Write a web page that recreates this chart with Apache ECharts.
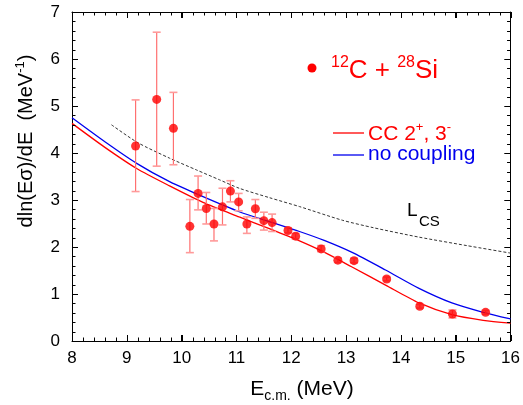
<!DOCTYPE html>
<html>
<head>
<meta charset="utf-8">
<script src="https://cdn.jsdelivr.net/npm/echarts@6/dist/echarts.min.js"></script>
<style>
html, body { margin: 0; padding: 0; background: #fff; }
#view { width: 523px; height: 405px; }
</style>
</head>
<body>
<div id="view"></div>
<script>
var myChart = echarts.init(document.getElementById('view'));

// measured points, 12C + 28Si
var energy = [9.16, 9.545, 9.85, 10.15, 10.30, 10.45, 10.59, 10.745, 10.89, 11.04, 11.19, 11.345,
    11.50, 11.65, 11.94, 12.08, 12.545, 12.85, 13.145, 13.74, 14.345, 14.94, 15.545];
var dlnE = [4.15, 5.14, 4.525, 2.44, 3.14, 2.82, 2.49, 2.855, 3.19, 2.96, 2.49, 2.815,
    2.56, 2.52, 2.35, 2.23, 1.96, 1.72, 1.71, 1.32, 0.74, 0.575, 0.61];
var errLow = [3.18, 3.72, 3.75, 1.88, 2.79, 2.49, 2.13, 2.47, 2.96, 2.77, 2.29, 2.61,
    2.36, 2.33, 2.30, 2.17, 1.90, 1.67, 1.66, 1.28, 0.70, 0.49, 0.57];
var errHigh = [5.13, 6.57, 5.29, 3.01, 3.51, 3.16, 2.82, 3.25, 3.41, 3.14, 2.64, 3.01,
    2.74, 2.70, 2.41, 2.29, 2.03, 1.77, 1.76, 1.36, 0.78, 0.66, 0.65];

// CC 2+, 3- curve
var ccX = [8.0, 8.6, 9.18, 9.78, 10.39, 11.05, 11.6, 12.15, 12.6, 13.1, 13.72, 14.33, 14.93, 15.5, 16.0];
var ccY = [4.63, 4.12, 3.67, 3.30, 2.95, 2.64, 2.39, 2.13, 1.89, 1.58, 1.19, 0.81, 0.56, 0.44, 0.38];
// no coupling curve
var ncX = [8.0, 8.6, 9.18, 9.78, 10.39, 11.05, 11.6, 12.15, 12.6, 13.1, 13.72, 14.33, 14.93, 15.5, 16.0];
var ncY = [4.75, 4.24, 3.78, 3.39, 3.07, 2.75, 2.54, 2.33, 2.14, 1.89, 1.51, 1.12, 0.81, 0.61, 0.47];
// L_CS dashed
var lcsX = [8.72, 9.2, 9.78, 10.27, 10.69, 11.05, 11.6, 12.15, 12.93, 13.5, 14.33, 15.2, 16.0];
var lcsY = [4.60, 4.22, 3.89, 3.64, 3.43, 3.25, 3.05, 2.86, 2.57, 2.41, 2.21, 2.03, 1.87];

// [min, max, major step, minor step]
var xTicks = [8, 16, 1, 0.2];
var yTicks = [0, 7, 1, 0.2];

function pairs(xs, ys) {
    var out = [];
    for (var i = 0; i < xs.length; i++) out.push([xs[i], ys[i]]);
    return out;
}

var errData = [];
for (var i = 0; i < energy.length; i++) {
    errData.push([energy[i], errLow[i], errHigh[i]]);
}

var font = 'Liberation Sans, Arial, Helvetica, sans-serif';

function axisBase(pos, showLabel, range) {
    return {
        type: 'value',
        position: pos,
        min: range[0],
        max: range[1],
        interval: range[2],
        axisLine: { show: true, onZero: false, lineStyle: { color: '#000', width: 1 } },
        axisTick: { show: true, inside: true, length: 6, lineStyle: { color: '#000', width: 1 } },
        splitLine: { show: false },
        axisLabel: { show: showLabel, color: '#000', fontSize: 17, fontFamily: font }
    };
}

var xBottom = axisBase('bottom', true, xTicks);
xBottom.axisLabel.margin = 9;
var yLeft = axisBase('left', true, yTicks);
yLeft.axisLabel.margin = 12;

function renderErr(params, api) {
    var x = api.value(0);
    var lo = api.coord([x, api.value(1)]);
    var hi = api.coord([x, api.value(2)]);
    var w = 4;
    var barStyle = { stroke: '#ff7070', lineWidth: 1.2 };
    var capStyle = { stroke: '#ff9a9a', lineWidth: 1.6 };
    return {
        type: 'group',
        children: [
            { type: 'line', shape: { x1: lo[0], y1: lo[1], x2: hi[0], y2: hi[1] }, style: barStyle },
            { type: 'line', shape: { x1: lo[0] - w, y1: lo[1], x2: lo[0] + w, y2: lo[1] }, style: capStyle },
            { type: 'line', shape: { x1: hi[0] - w, y1: hi[1], x2: hi[0] + w, y2: hi[1] }, style: capStyle }
        ]
    };
}

var graphics = [
    // y axis title
    {
        type: 'text', x: 26, y: 141, rotation: Math.PI / 2,
        style: {
            text: 'dln(Eσ)/dE  (MeV{sup|-1})',
            fontSize: 20, fontFamily: font, fill: '#000',
            align: 'center', verticalAlign: 'middle',
            textAlign: 'center', textVerticalAlign: 'middle',
            lineHeight: 24,
            rich: { sup: { fontSize: 13, verticalAlign: 'top', lineHeight: 14, fill: '#000', fontFamily: font } }
        }
    },
    // x axis title
    {
        type: 'text', x: 302, y: 389,
        style: {
            text: 'E{sub|c.m.} (MeV)',
            fontSize: 21, fontFamily: font, fill: '#000',
            align: 'center', verticalAlign: 'middle',
            textAlign: 'center', textVerticalAlign: 'middle',
            lineHeight: 28,
            rich: { sub: { fontSize: 14, verticalAlign: 'bottom', lineHeight: 14, fill: '#000', fontFamily: font } }
        }
    },
    // legend: data
    { type: 'circle', shape: { cx: 312, cy: 68, r: 4.5 }, style: { fill: '#ff0000' } },
    {
        type: 'text', x: 331, y: 71,
        style: {
            text: '{sup|12}C + {sup|28}Si',
            fontSize: 26, fontFamily: font, fill: '#ff0000',
            align: 'left', verticalAlign: 'middle',
            textAlign: 'left', textVerticalAlign: 'middle',
            lineHeight: 32,
            rich: { sup: { fontSize: 16, verticalAlign: 'top', lineHeight: 16, fill: '#ff0000', fontFamily: font } }
        }
    },
    // legend: curves
    { type: 'line', shape: { x1: 333, y1: 133, x2: 364, y2: 133 }, style: { stroke: '#ff0000', lineWidth: 1.3 } },
    {
        type: 'text', x: 368, y: 134,
        style: {
            text: 'CC 2{sup|+}, 3{sup|-}',
            fontSize: 21, fontFamily: font, fill: '#ff0000',
            align: 'left', verticalAlign: 'middle',
            textAlign: 'left', textVerticalAlign: 'middle',
            lineHeight: 26,
            rich: { sup: { fontSize: 13, verticalAlign: 'top', lineHeight: 13, fill: '#ff0000', fontFamily: font } }
        }
    },
    { type: 'line', shape: { x1: 333, y1: 155, x2: 364, y2: 155 }, style: { stroke: '#0000ee', lineWidth: 1.3 } },
    {
        type: 'text', x: 368, y: 154,
        style: {
            text: 'no coupling',
            fontSize: 21, fontFamily: font, fill: '#0000ee',
            align: 'left', verticalAlign: 'middle',
            textAlign: 'left', textVerticalAlign: 'middle'
        }
    },
    // L_CS label
    {
        type: 'text', x: 407, y: 220,
        style: {
            text: 'L',
            fontSize: 19, fontFamily: font, fill: '#000',
            textAlign: 'left', textVerticalAlign: 'bottom',
            align: 'left', verticalAlign: 'bottom'
        }
    },
    {
        type: 'text', x: 419, y: 229,
        style: {
            text: 'CS',
            fontSize: 15, fontFamily: font, fill: '#000',
            textAlign: 'left', textVerticalAlign: 'bottom',
            align: 'left', verticalAlign: 'bottom'
        }
    }
];

var option = {
    animation: false,
    backgroundColor: '#fff',
    grid: { left: 72, right: 12, top: 12, bottom: 64 },
    xAxis: [xBottom, axisBase('top', false, xTicks)],
    yAxis: [yLeft, axisBase('right', false, yTicks)],
    series: [
        {
            name: 'L_CS',
            type: 'line',
            data: pairs(lcsX, lcsY),
            smooth: 0.25,
            showSymbol: false,
            lineStyle: { color: '#333', width: 1, type: [3, 2] },
            z: 2
        },
        {
            name: 'no coupling',
            type: 'line',
            data: pairs(ncX, ncY),
            smooth: 0.25,
            showSymbol: false,
            lineStyle: { color: '#0000ee', width: 1.3 },
            z: 2
        },
        {
            name: 'CC 2+, 3-',
            type: 'line',
            data: pairs(ccX, ccY),
            smooth: 0.25,
            showSymbol: false,
            lineStyle: { color: '#ff0000', width: 1.3 },
            z: 2
        },
        {
            name: 'err',
            type: 'custom',
            renderItem: renderErr,
            data: errData,
            encode: { x: 0, y: [1, 2] },
            z: 3
        },
        {
            name: '12C + 28Si',
            type: 'scatter',
            data: pairs(energy, dlnE),
            symbol: 'circle',
            symbolSize: 9,
            itemStyle: { color: '#ff0000' },
            z: 4
        }
    ],
    graphic: graphics
};

myChart.setOption(option);

// inward frame ticks, placed through the chart's own scales
var lb = myChart.convertToPixel({ gridIndex: 0 }, [xTicks[0], yTicks[0]]);
var rt = myChart.convertToPixel({ gridIndex: 0 }, [xTicks[1], yTicks[1]]);
var tickStyle = { stroke: '#000', lineWidth: 1 };
function addTicks(t, isX) {
    var n = Math.round((t[1] - t[0]) / t[3]);
    var per = Math.round(t[2] / t[3]);
    for (var k = 0; k <= n; k++) {
        var v = +(t[0] + k * t[3]).toFixed(4);
        var len = k % per === 0 ? 6 : 3.5;
        if (isX) {
            var px = Math.round(myChart.convertToPixel({ gridIndex: 0 }, [v, yTicks[0]])[0]) + 0.5;
            graphics.push({ type: 'line', silent: true, z: 10, shape: { x1: px, y1: lb[1], x2: px, y2: lb[1] - len }, style: tickStyle });
            graphics.push({ type: 'line', silent: true, z: 10, shape: { x1: px, y1: rt[1], x2: px, y2: rt[1] + len }, style: tickStyle });
        } else {
            var py = Math.round(myChart.convertToPixel({ gridIndex: 0 }, [xTicks[0], v])[1]) + 0.5;
            graphics.push({ type: 'line', silent: true, z: 10, shape: { x1: lb[0], y1: py, x2: lb[0] + len, y2: py }, style: tickStyle });
            graphics.push({ type: 'line', silent: true, z: 10, shape: { x1: rt[0], y1: py, x2: rt[0] - len, y2: py }, style: tickStyle });
        }
    }
}
addTicks(xTicks, true);
addTicks(yTicks, false);
myChart.setOption({ graphic: graphics });
</script>
</body>
</html>
